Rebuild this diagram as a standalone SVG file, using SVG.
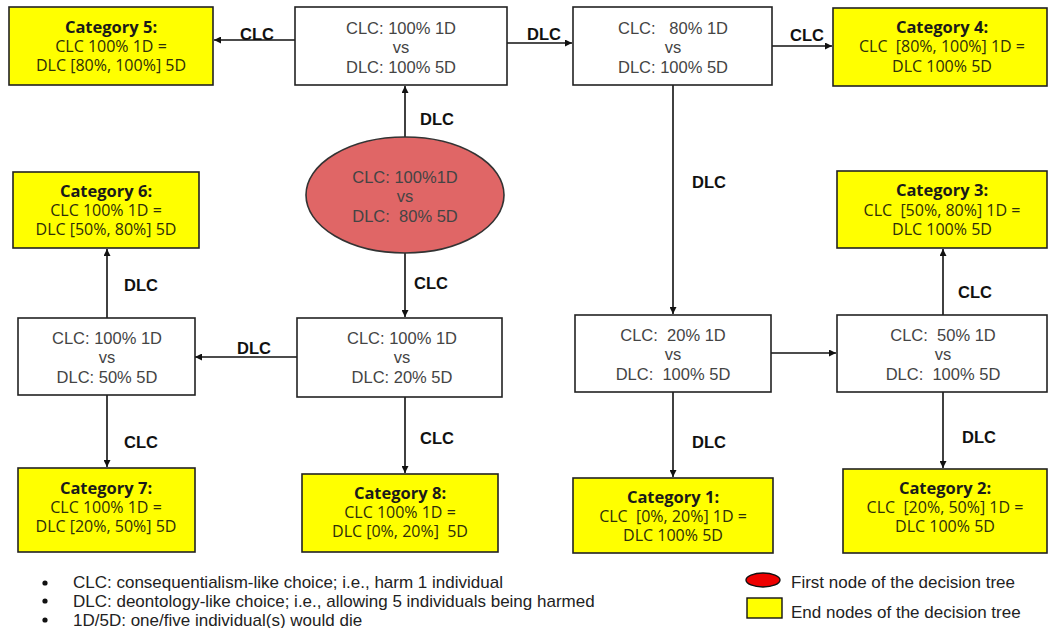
<svg xmlns="http://www.w3.org/2000/svg" width="1050" height="628" viewBox="0 0 1050 628">
<style>
.box{fill:#fff;stroke:#222;stroke-width:1.6}
.end{fill:#ffff00;stroke:#222;stroke-width:1.6}
.n{font-family:"Liberation Sans",Arial,sans-serif;font-size:16.5px;fill:#444;text-anchor:middle;white-space:pre}
.c{font-family:"Open Sans",sans-serif;font-size:16px;fill:#2e2e0a;text-anchor:middle;white-space:pre}
.cb{font-size:16.5px;font-weight:bold;fill:#1a1a1a}
.lbl{font-family:"Liberation Sans",Arial,sans-serif;font-size:16.5px;font-weight:bold;fill:#111}
.edge{stroke:#111;stroke-width:1.6;fill:none;marker-end:url(#ah)}
.lg{font-family:"Liberation Sans",Arial,sans-serif;font-size:17px;fill:#222}
</style>
<defs>
<marker id="ah" viewBox="0 0 10 10" refX="10" refY="5" markerWidth="7" markerHeight="7" markerUnits="userSpaceOnUse" orient="auto">
<path d="M0,0 L10,5 L0,10 z" fill="#111"/>
</marker>
</defs>
<rect width="1050" height="628" fill="#fff"/>

<g id="connectors">
<line class="edge" x1="295" y1="40" x2="214" y2="40"/>
<line class="edge" x1="507" y1="43" x2="572" y2="43"/>
<line class="edge" x1="772" y1="46" x2="832" y2="46"/>
<line class="edge" x1="405" y1="137" x2="405" y2="86"/>
<line class="edge" x1="405" y1="253" x2="405" y2="317"/>
<line class="edge" x1="297" y1="357" x2="195" y2="357"/>
<line class="edge" x1="107" y1="318" x2="107" y2="249"/>
<line class="edge" x1="107" y1="395" x2="107" y2="467"/>
<line class="edge" x1="405" y1="397" x2="405" y2="473"/>
<line class="edge" x1="673" y1="85" x2="673" y2="314"/>
<line class="edge" x1="771" y1="353" x2="836" y2="353"/>
<line class="edge" x1="943" y1="315" x2="943" y2="249"/>
<line class="edge" x1="673" y1="392" x2="673" y2="477"/>
<line class="edge" x1="943" y1="392" x2="943" y2="468"/>
<text class="lbl" x="240" y="40">CLC</text>
<text class="lbl" x="527" y="40">DLC</text>
<text class="lbl" x="790" y="41">CLC</text>
<text class="lbl" x="420" y="125">DLC</text>
<text class="lbl" x="414" y="289">CLC</text>
<text class="lbl" x="237" y="354">DLC</text>
<text class="lbl" x="124" y="291">DLC</text>
<text class="lbl" x="124" y="448">CLC</text>
<text class="lbl" x="420" y="444">CLC</text>
<text class="lbl" x="692" y="188">DLC</text>
<text class="lbl" x="958" y="298">CLC</text>
<text class="lbl" x="692" y="448">DLC</text>
<text class="lbl" x="962" y="443">DLC</text>
</g>

<g id="cat5">
<rect class="end" x="9" y="7" width="204" height="78"/>
<text class="c" x="111" y="33"><tspan class="cb">Category 5:</tspan><tspan x="111" dy="19">CLC 100% 1D =</tspan><tspan x="111" dy="19">DLC [80%, 100%] 5D</tspan></text>
</g>
<g id="nodeA">
<rect class="box" x="295" y="7" width="212" height="78"/>
<text class="n" x="401" y="34">CLC: 100% 1D<tspan x="401" dy="19">vs</tspan><tspan x="401" dy="20">DLC: 100% 5D</tspan></text>
</g>
<g id="nodeB">
<rect class="box" x="573" y="7" width="199" height="78"/>
<text class="n" x="673" y="34">CLC:   80% 1D<tspan x="673" dy="19">vs</tspan><tspan x="673" dy="20">DLC: 100% 5D</tspan></text>
</g>
<g id="cat4">
<rect class="end" x="833" y="8" width="214" height="78"/>
<text class="c" x="942" y="33"><tspan class="cb">Category 4:</tspan><tspan x="942" dy="19">CLC  [80%, 100%] 1D =</tspan><tspan x="942" dy="20">DLC 100% 5D</tspan></text>
</g>
<g id="start">
<ellipse cx="405" cy="195" rx="99" ry="58" fill="#e06666" stroke="#333" stroke-width="1.6"/>
<text class="n" x="405" y="183">CLC: 100%1D<tspan x="405" dy="19">vs</tspan><tspan x="405" dy="20">DLC:  80% 5D</tspan></text>
</g>
<g id="cat6">
<rect class="end" x="13" y="172" width="186" height="76"/>
<text class="c" x="106" y="197"><tspan class="cb">Category 6:</tspan><tspan x="106" dy="19">CLC 100% 1D =</tspan><tspan x="106" dy="19">DLC [50%, 80%] 5D</tspan></text>
</g>
<g id="nodeC">
<rect class="box" x="18" y="318" width="177" height="77"/>
<text class="n" x="107" y="344">CLC: 100% 1D<tspan x="107" dy="19">vs</tspan><tspan x="107" dy="20">DLC: 50% 5D</tspan></text>
</g>
<g id="nodeD">
<rect class="box" x="297" y="318" width="205" height="79"/>
<text class="n" x="402" y="344">CLC: 100% 1D<tspan x="402" dy="19">vs</tspan><tspan x="402" dy="20">DLC: 20% 5D</tspan></text>
</g>
<g id="cat3">
<rect class="end" x="837" y="171" width="210" height="77"/>
<text class="c" x="942" y="196"><tspan class="cb">Category 3:</tspan><tspan x="942" dy="20">CLC  [50%, 80%] 1D =</tspan><tspan x="942" dy="19">DLC 100% 5D</tspan></text>
</g>
<g id="nodeE">
<rect class="box" x="575" y="315" width="196" height="77"/>
<text class="n" x="673" y="341">CLC:  20% 1D<tspan x="673" dy="19">vs</tspan><tspan x="673" dy="20">DLC:  100% 5D</tspan></text>
</g>
<g id="nodeF">
<rect class="box" x="837" y="315" width="210" height="77"/>
<text class="n" x="943" y="341">CLC:  50% 1D<tspan x="943" dy="19">vs</tspan><tspan x="943" dy="20">DLC:  100% 5D</tspan></text>
</g>
<g id="cat7">
<rect class="end" x="18" y="468" width="177" height="84"/>
<text class="c" x="106" y="494"><tspan class="cb">Category 7:</tspan><tspan x="106" dy="19">CLC 100% 1D =</tspan><tspan x="106" dy="19">DLC [20%, 50%] 5D</tspan></text>
</g>
<g id="cat8">
<rect class="end" x="302" y="474" width="196" height="78"/>
<text class="c" x="400" y="499"><tspan class="cb">Category 8:</tspan><tspan x="400" dy="19">CLC 100% 1D =</tspan><tspan x="400" dy="19">DLC [0%, 20%]  5D</tspan></text>
</g>
<g id="cat1">
<rect class="end" x="573" y="478" width="200" height="75"/>
<text class="c" x="673" y="503"><tspan class="cb">Category 1:</tspan><tspan x="673" dy="19">CLC  [0%, 20%] 1D =</tspan><tspan x="673" dy="19">DLC 100% 5D</tspan></text>
</g>
<g id="cat2">
<rect class="end" x="843" y="469" width="204" height="84"/>
<text class="c" x="945" y="494"><tspan class="cb">Category 2:</tspan><tspan x="945" dy="19">CLC  [20%, 50%] 1D =</tspan><tspan x="945" dy="19">DLC 100% 5D</tspan></text>
</g>

<g id="legend">
<circle cx="45" cy="583" r="2.6" fill="#111"/>
<circle cx="45" cy="601" r="2.6" fill="#111"/>
<circle cx="45" cy="620" r="2.6" fill="#111"/>
<text class="lg" x="73" y="588">CLC: consequentialism-like choice; i.e., harm 1 individual</text>
<text class="lg" x="73" y="607">DLC: deontology-like choice; i.e., allowing 5 individuals being harmed</text>
<text class="lg" x="73" y="626">1D/5D: one/five individual(s) would die</text>
<ellipse cx="763" cy="580" rx="17" ry="7" fill="#ee0000" stroke="#111" stroke-width="1.4"/>
<text class="lg" x="791" y="588">First node of the decision tree</text>
<rect x="747" y="598" width="35" height="20" fill="#ffff00" stroke="#111" stroke-width="1.4"/>
<text class="lg" x="791" y="618">End nodes of the decision tree</text>
</g>
</svg>
